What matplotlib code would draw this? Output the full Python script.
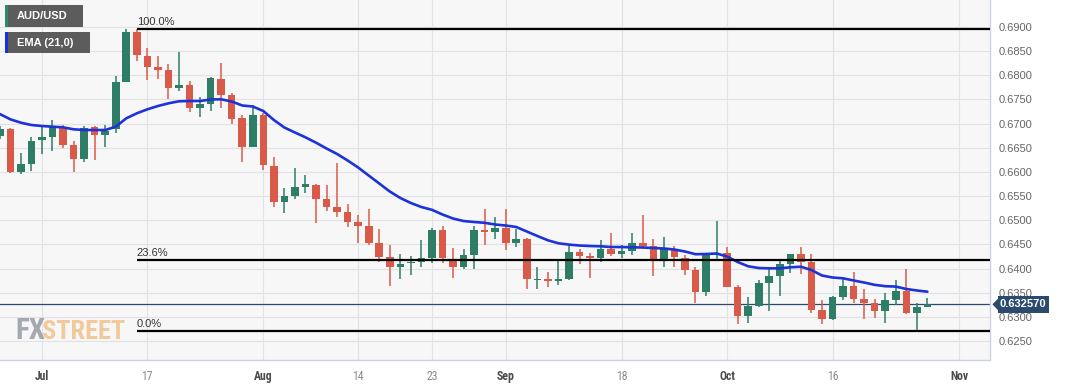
import numpy as np
import matplotlib
matplotlib.use("Agg")
import matplotlib.pyplot as plt
from matplotlib import font_manager
from matplotlib.patches import Rectangle, Polygon
from matplotlib.transforms import blended_transform_factory

# ---------------- data ----------------
# trading-day index (0 = Jul 3 2023)
candle_idx = list(range(-4, 85))
opens = [0.6674, 0.6688, 0.6600, 0.6616, 0.6666, 0.6672, 0.6690, 0.6655, 0.6626, 0.6692,
         0.6676, 0.6688, 0.6787, 0.6890, 0.6840, 0.6817, 0.6811, 0.6773, 0.6780, 0.6732,
         0.6741, 0.6793, 0.6759, 0.6712, 0.6651, 0.6718, 0.6612, 0.6538, 0.6550, 0.6569,
         0.6573, 0.6543, 0.6528, 0.6516, 0.6497, 0.6487, 0.6453, 0.6423, 0.6404, 0.6411,
         0.6414, 0.6421, 0.6480, 0.6416, 0.6403, 0.6428, 0.6480, 0.6476, 0.6483, 0.6452,
         0.6461, 0.6376, 0.6379, 0.6375, 0.6378, 0.6434, 0.6426, 0.6421, 0.6440, 0.6430,
         0.6437, 0.6453, 0.6447, 0.6416, 0.6438, 0.6421, 0.6397, 0.6352, 0.6428, 0.6433,
         0.6361, 0.6302, 0.6322, 0.6369, 0.6385, 0.6409, 0.6430, 0.6414, 0.6314, 0.6295,
         0.6342, 0.6364, 0.6336, 0.6329, 0.6313, 0.6335, 0.6354, 0.6307, 0.6321]
highs = [0.6695, 0.6690, 0.6640, 0.6672, 0.6692, 0.6708, 0.6697, 0.6663, 0.6695, 0.6695,
         0.6697, 0.6799, 0.6895, 0.6895, 0.6856, 0.6839, 0.6823, 0.6848, 0.6789, 0.6756,
         0.6797, 0.6825, 0.6763, 0.6718, 0.6739, 0.6721, 0.6630, 0.6567, 0.6609, 0.6594,
         0.6575, 0.6573, 0.6618, 0.6534, 0.6511, 0.6523, 0.6481, 0.6449, 0.6430, 0.6426,
         0.6459, 0.6483, 0.6487, 0.6442, 0.6440, 0.6487, 0.6523, 0.6507, 0.6523, 0.6481,
         0.6463, 0.6404, 0.6393, 0.6416, 0.6449, 0.6440, 0.6433, 0.6458, 0.6473, 0.6449,
         0.6473, 0.6511, 0.6461, 0.6465, 0.6447, 0.6428, 0.6403, 0.6430, 0.6499, 0.6444,
         0.6366, 0.6342, 0.6376, 0.6398, 0.6416, 0.6431, 0.6444, 0.6431, 0.6335, 0.6343,
         0.6382, 0.6393, 0.6357, 0.6336, 0.6349, 0.6376, 0.6398, 0.6329, 0.6338]
lows = [0.6668, 0.6598, 0.6595, 0.6602, 0.6637, 0.6643, 0.6649, 0.6599, 0.6621, 0.6625,
        0.6651, 0.6680, 0.6787, 0.6830, 0.6790, 0.6792, 0.6750, 0.6768, 0.6723, 0.6714,
        0.6727, 0.6732, 0.6699, 0.6621, 0.6651, 0.6604, 0.6528, 0.6514, 0.6543, 0.6556,
        0.6495, 0.6520, 0.6507, 0.6485, 0.6453, 0.6449, 0.6414, 0.6364, 0.6378, 0.6387,
        0.6403, 0.6411, 0.6412, 0.6380, 0.6400, 0.6400, 0.6449, 0.6461, 0.6438, 0.6444,
        0.6357, 0.6357, 0.6361, 0.6366, 0.6376, 0.6409, 0.6380, 0.6414, 0.6426, 0.6421,
        0.6428, 0.6440, 0.6385, 0.6403, 0.6404, 0.6387, 0.6329, 0.6343, 0.6420, 0.6361,
        0.6285, 0.6287, 0.6320, 0.6313, 0.6343, 0.6390, 0.6389, 0.6307, 0.6285, 0.6293,
        0.6335, 0.6328, 0.6295, 0.6297, 0.6288, 0.6324, 0.6306, 0.6270, 0.6320]
closes = [0.6689, 0.6599, 0.6616, 0.6665, 0.6673, 0.6694, 0.6656, 0.6626, 0.6690, 0.6676,
          0.6685, 0.6787, 0.6890, 0.6841, 0.6818, 0.6812, 0.6773, 0.6779, 0.6732, 0.6740,
          0.6794, 0.6759, 0.6710, 0.6651, 0.6718, 0.6614, 0.6538, 0.6550, 0.6569, 0.6574,
          0.6544, 0.6528, 0.6516, 0.6497, 0.6487, 0.6453, 0.6423, 0.6403, 0.6409, 0.6414,
          0.6422, 0.6480, 0.6421, 0.6404, 0.6428, 0.6480, 0.6475, 0.6483, 0.6453, 0.6461,
          0.6378, 0.6379, 0.6375, 0.6378, 0.6434, 0.6426, 0.6421, 0.6440, 0.6430, 0.6437,
          0.6453, 0.6447, 0.6416, 0.6440, 0.6423, 0.6397, 0.6352, 0.6428, 0.6433, 0.6362,
          0.6302, 0.6322, 0.6369, 0.6385, 0.6409, 0.6430, 0.6414, 0.6314, 0.6295, 0.6342,
          0.6364, 0.6336, 0.6328, 0.6313, 0.6335, 0.6354, 0.6307, 0.6320, 0.632570]
ema21 = [0.67199, 0.67089, 0.67019, 0.66971, 0.66950, 0.66936, 0.66923, 0.66882, 0.66867, 0.66867,
         0.66867, 0.66936, 0.67110, 0.67213, 0.67296, 0.67364, 0.67420, 0.67462, 0.67468, 0.67468,
         0.67499, 0.67503, 0.67458, 0.67375, 0.67354, 0.67261, 0.67075, 0.66919, 0.66816, 0.66716,
         0.66605, 0.66484, 0.66371, 0.66236, 0.66091, 0.65925, 0.65760, 0.65594, 0.65460, 0.65356,
         0.65273, 0.65215, 0.65118, 0.65035, 0.64983, 0.64963, 0.64946, 0.64911, 0.64890, 0.64859,
         0.64766, 0.64673, 0.64584, 0.64522, 0.64495, 0.64476, 0.64466, 0.64460, 0.64445, 0.64445,
         0.64439, 0.64435, 0.64424, 0.64414, 0.64393, 0.64352, 0.64296, 0.64300, 0.64311, 0.64248,
         0.64135, 0.64046, 0.64010, 0.64004, 0.64004, 0.64025, 0.64037, 0.63969, 0.63855, 0.63814,
         0.63797, 0.63752, 0.63710, 0.63662, 0.63634, 0.63626, 0.63576, 0.63545, 0.63520]

tick_pos = [0, 10, 21, 30, 37, 44, 55, 65, 75, 87]
tick_labels = ['Jul', '17', 'Aug', '14', '23', 'Sep', '18', 'Oct', '16', 'Nov']
month_labels = {'Jul', 'Aug', 'Sep', 'Oct', 'Nov'}

fib_high = 0.6895
fib_low = 0.6270
fib_ratios = [1.0, 0.236, 0.0]
fib_names = ['100.0%', '23.6%', '0.0%']
fib_start = 9          # index of the swing-high candle
last_price = 0.632570
y_ticks = [0.6250, 0.6300, 0.6350, 0.6400, 0.6450, 0.6500, 0.6550, 0.6600,
           0.6650, 0.6700, 0.6750, 0.6800, 0.6850, 0.6900]

# ---------------- fonts ----------------
names = {f.name for f in font_manager.fontManager.ttflist}
def pick(cands):
    for c in cands:
        if c in names:
            return c
    return 'DejaVu Sans'
narrow = pick(['Liberation Sans Narrow', 'Roboto Condensed', 'Open Sans Condensed', 'Liberation Sans'])
arial = pick(['Liberation Sans', 'Arimo', 'DejaVu Sans'])

W, H = 1067, 386
fig = plt.figure(figsize=(W / 100, H / 100), dpi=100)
fig.patch.set_facecolor('white')
ax = fig.add_axes([0, 26 / H, 990 / W, 360 / H])
ax.set_facecolor('#f7f7f8')

green = '#2e7d66'
red = '#d95a49'
blue = '#1b33d8'
navy = '#2c4a6e'

x = np.array(candle_idx, dtype=float)
o = np.array(opens); h = np.array(highs); l = np.array(lows); c = np.array(closes)
up = c >= o
cols = np.where(up, green, red)
bottom = np.minimum(o, c)
height = np.maximum(np.abs(c - o), 0.00030)

ax.vlines(x, l, h, colors=cols, linewidth=1.1, zorder=3)
ax.bar(x, height, bottom=bottom, width=0.72, color=cols, linewidth=0, zorder=4)
ax.plot(x, ema21, color=blue, linewidth=1.9, zorder=5, solid_capstyle='round')

xmin, xmax = -3.98, 89.94
ax.set_xlim(xmin, xmax)
ax.set_ylim(0.62106, 0.69559)

# Fibonacci levels
for r, nm in zip(fib_ratios, fib_names):
    lvl = fib_low + r * (fib_high - fib_low)
    ax.hlines(lvl, fib_start, xmax, color='black', linewidth=1.6, zorder=6)
    ax.annotate(nm, (fib_start, lvl), xytext=(0, 1.5), textcoords='offset points',
                ha='left', va='bottom', fontsize=8, color='#333333', family=arial, zorder=7)

# last price line
ax.axhline(last_price, color=navy, linewidth=0.9, zorder=2)

# grid / axes
ax.set_yticks(y_ticks)
ax.set_yticklabels([f'{v:.4f}' for v in y_ticks])
ax.yaxis.tick_right()
ax.tick_params(axis='y', length=0, pad=6, labelsize=8, labelcolor='#666666')
for t in ax.get_yticklabels():
    t.set_family(arial)
ax.set_xticks(tick_pos)
ax.set_xticklabels(tick_labels)
ax.tick_params(axis='x', length=0, pad=7, labelsize=8.5)
for t in ax.get_xticklabels():
    t.set_family(narrow)
    if t.get_text() in month_labels:
        t.set_color('#4a4a4a')
        t.set_fontweight('bold')
    else:
        t.set_color('#8a8a8a')
ax.grid(True, color='#e2e2e4', linewidth=0.8, zorder=0)
ax.set_axisbelow(True)
for s in ['top', 'left']:
    ax.spines[s].set_visible(False)
for s in ['right', 'bottom']:
    ax.spines[s].set_color('#cdd3dc')
    ax.spines[s].set_linewidth(1)

# watermark
ax.text(15 / 990, 1 - 339 / 360, 'FX', transform=ax.transAxes, fontsize=21, fontweight='bold',
        family=narrow, color='#9aa0aa', alpha=0.9, ha='left', va='baseline', zorder=1)
ax.text(42 / 990, 1 - 339 / 360, 'STREET', transform=ax.transAxes, fontsize=19, fontweight='bold',
        family=narrow, color='#efc28a', alpha=0.85, ha='left', va='baseline', zorder=1)

# legend boxes (figure pixels, top-left origin)
def fx(px): return px / W
def fy(py): return 1 - py / H
for (x0, x1, y0, y1, bar, label) in [(5, 83, 5, 27, '#2e8b6a', 'AUD/USD'),
                                     (5, 90, 32, 53, '#1433e0', 'EMA (21,0)')]:
    fig.patches.append(Rectangle((fx(x0), fy(y1)), fx(x1) - fx(x0), fy(y0) - fy(y1),
                                 transform=fig.transFigure, facecolor='#5c5c5c', edgecolor='none', zorder=10))
    fig.patches.append(Rectangle((fx(x0), fy(y1)), fx(2.5), fy(y0) - fy(y1),
                                 transform=fig.transFigure, facecolor=bar, edgecolor='none', zorder=11))
    fig.text(fx(17), fy((y0 + y1) / 2), label, color='white', fontsize=8, fontweight='bold',
             family=arial, ha='left', va='center', zorder=12)

# last price tag
bt = blended_transform_factory(fig.transFigure, ax.transData)
half = 8.5 / 4830
fig.patches.append(Rectangle((fx(998), last_price - half), fx(1049) - fx(998), 2 * half,
                             transform=bt, facecolor=navy, edgecolor='none', zorder=10))
fig.patches.append(Polygon([(fx(992.5), last_price), (fx(998.5), last_price + half * 0.75),
                            (fx(998.5), last_price - half * 0.75)], closed=True,
                           transform=bt, facecolor=navy, edgecolor='none', zorder=10))
fig.text(fx(1000), last_price, f'{last_price:.6f}', transform=bt, color='white', fontsize=8,
         fontweight='bold', family=arial, ha='left', va='center', zorder=12)

fig.savefig('out.png', dpi=100, facecolor='white')
